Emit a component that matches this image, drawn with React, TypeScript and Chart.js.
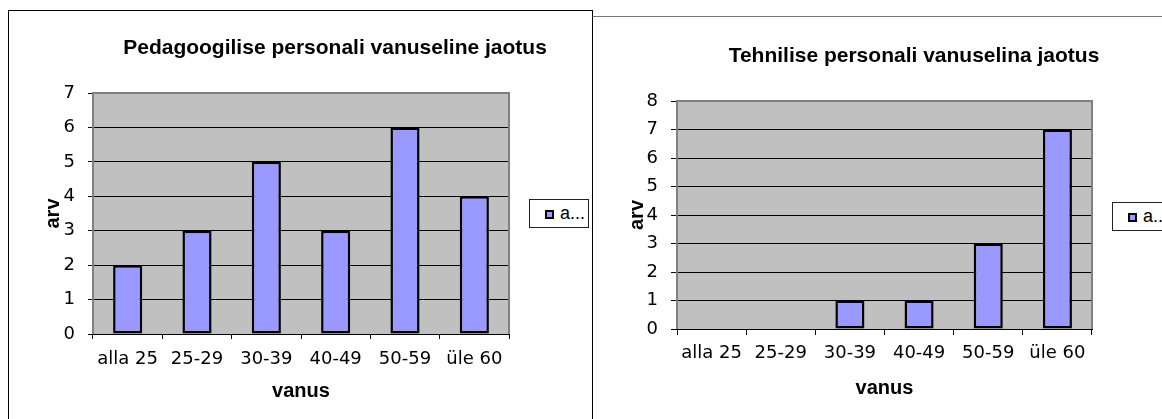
import React, { useEffect, useRef } from 'react';
import { Chart, registerables } from 'chart.js';

Chart.register(...registerables);

// ---- data ----
const categories = ['alla 25', '25-29', '30-39', '40-49', '50-59', 'üle 60'];
const pedagogicalCounts = [2, 3, 5, 3, 6, 4];
const technicalCounts = [0, 0, 1, 1, 3, 7];
const pedagogicalTitle = 'Pedagoogilise personali vanuseline jaotus';
const technicalTitle = 'Tehnilise personali vanuselina jaotus';
const xAxisTitle = 'vanus';
const yAxisTitle = 'arv';
const seriesLabel = 'arv';
const legendText = 'a...';
const pedagogicalMax = 7;
const technicalMax = 8;

const BAR_FILL = '#9999FF';
const TICK_FONT = { family: "'DejaVu Sans', 'Liberation Sans', sans-serif", size: 18 };
const boldFont = (size: number) => ({ family: "'Liberation Sans', Arial, sans-serif", size, weight: 'bold' as const });

const plotFrame = {
  id: 'plotFrame',
  afterLayout(chart: any, _args: any, opts: any) {
    const t = chart.titleBlock;
    if (t && opts && opts.titleShift) {
      t.left += opts.titleShift;
      t.right += opts.titleShift;
    }
  },
  beforeDraw(chart: any) {
    const { ctx, chartArea: a } = chart;
    ctx.save();
    ctx.fillStyle = '#C0C0C0';
    ctx.fillRect(a.left, a.top, a.right - a.left, a.bottom - a.top);
    ctx.restore();
  },
  beforeDatasetsDraw(chart: any) {
    const { ctx, chartArea: a } = chart;
    ctx.save();
    ctx.strokeStyle = '#808080';
    ctx.lineWidth = 2;
    ctx.beginPath();
    ctx.moveTo(a.left, a.bottom);
    ctx.lineTo(a.left, a.top);
    ctx.lineTo(a.right, a.top);
    ctx.lineTo(a.right, a.bottom);
    ctx.stroke();
    ctx.restore();
  },
};

type Geo = {
  titleShift: number;
  yWidth: number;
  rightWidth: number;
  xHeight: number;
  titleTop: number;
  titleBottom: number;
  yTitlePad: number;
  yTickPad: number;
  tickLen: number;
  xTickPad: number;
  xTitleBottom: number;
};

function buildConfig(values: number[], max: number, title: string, g: Geo): any {
  return {
    type: 'bar',
    data: {
      labels: categories,
      datasets: [
        {
          label: seriesLabel,
          data: values,
          xAxisID: 'x',
          yAxisID: 'y',
          backgroundColor: BAR_FILL,
          borderColor: '#000000',
          borderWidth: 2.5,
          borderSkipped: false,
          categoryPercentage: 1,
          barPercentage: 0.42,
        },
      ],
    },
    options: {
      responsive: false,
      animation: false,
      devicePixelRatio: 1,
      layout: { padding: 0 },
      plugins: {
        legend: { display: false },
        tooltip: { enabled: false },
        plotFrame: { titleShift: g.titleShift },
        title: {
          display: true,
          text: title,
          color: '#000',
          font: boldFont(21),
          padding: { top: g.titleTop, bottom: g.titleBottom },
        },
      },
      scales: {
        x: {
          type: 'category',
          position: 'bottom',
          grid: {
            display: true,
            drawOnChartArea: false,
            drawTicks: true,
            tickLength: g.tickLen,
            color: '#000',
            offset: true,
          },
          border: { display: true, color: '#000', width: 1 },
          ticks: {
            font: TICK_FONT,
            color: '#000',
            padding: g.xTickPad,
            maxRotation: 0,
            minRotation: 0,
            autoSkip: false,
          },
          title: {
            display: true,
            text: xAxisTitle,
            color: '#000',
            font: boldFont(20),
            padding: { top: 0, bottom: g.xTitleBottom },
          },
          afterFit: (s: any) => {
            s.height = g.xHeight;
          },
        },
        y: {
          type: 'linear',
          position: 'left',
          min: 0,
          max,
          grid: { color: '#000', lineWidth: 1, tickLength: g.tickLen, tickColor: '#000' },
          border: { display: true, color: '#000', width: 1 },
          ticks: { stepSize: 1, font: TICK_FONT, color: '#000', padding: g.yTickPad },
          title: {
            display: true,
            text: yAxisTitle,
            color: '#000',
            font: boldFont(20),
            padding: { top: g.yTitlePad, bottom: 0 },
          },
          afterFit: (s: any) => {
            s.width = g.yWidth;
          },
        },
        pad: {
          type: 'linear',
          position: 'right',
          display: true,
          grid: { display: false },
          border: { display: false },
          ticks: { display: false },
          afterFit: (s: any) => {
            s.width = g.rightWidth;
          },
        },
      },
    },
    plugins: [plotFrame],
  };
}

function ChartCanvas(props: { values: number[]; max: number; title: string; geo: Geo; width: number; height: number; style: React.CSSProperties }) {
  const ref = useRef<HTMLCanvasElement | null>(null);
  useEffect(() => {
    if (!ref.current) return;
    const chart = new Chart(ref.current, buildConfig(props.values, props.max, props.title, props.geo));
    return () => chart.destroy();
  }, []);
  return <canvas ref={ref} width={props.width} height={props.height} style={{ position: 'absolute', display: 'block', ...props.style }} />;
}

function Legend(props: { left: number; top: number; width: number }) {
  return (
    <div
      style={{
        position: 'absolute',
        left: props.left,
        top: props.top,
        width: props.width,
        height: 29,
        boxSizing: 'border-box',
        border: '1px solid #222',
        background: '#fff',
        fontFamily: "'Liberation Sans', Arial, sans-serif",
        fontSize: 18,
        color: '#000',
      }}
    >
      <span
        style={{
          position: 'absolute',
          left: 15,
          top: 10,
          width: 9,
          height: 9,
          boxSizing: 'border-box',
          border: '2px solid #000',
          background: BAR_FILL,
        }}
      />
      <span style={{ position: 'absolute', left: 30, top: 0, lineHeight: '27px', whiteSpace: 'nowrap' }}>{legendText}</span>
    </div>
  );
}

const leftGeo: Geo = {
  titleShift: 35,
  yWidth: 84,
  rightWidth: 82,
  xHeight: 85,
  titleTop: 24.4,
  titleBottom: 32.4,
  yTitlePad: 32,
  yTickPad: 13,
  tickLen: 5,
  xTickPad: 10,
  xTitleBottom: 16,
};

const rightGeo: Geo = {
  titleShift: 36.5,
  yWidth: 84,
  rightWidth: 70,
  xHeight: 90,
  titleTop: 26.4,
  titleBottom: 32.4,
  yTitlePad: 32,
  yTickPad: 13,
  tickLen: 6,
  xTickPad: 7.5,
  xTitleBottom: 19,
};

export default function App() {
  return (
    <div style={{ position: 'fixed', left: 0, top: 0, width: 1162, height: 419, overflow: 'hidden', background: '#fff' }}>
      <div
        style={{
          position: 'absolute',
          left: 8,
          top: 10,
          width: 585,
          height: 430,
          boxSizing: 'border-box',
          border: '1px solid #000',
        }}
      />
      <div
        style={{
          position: 'absolute',
          left: 592,
          top: 16,
          width: 600,
          height: 430,
          boxSizing: 'border-box',
          borderTop: '1px solid #777',
          borderLeft: '1px solid #000',
        }}
      />
      <ChartCanvas values={pedagogicalCounts} max={pedagogicalMax} title={pedagogicalTitle} geo={leftGeo} width={582} height={408} style={{ left: 9, top: 11 }} />
      <ChartCanvas values={technicalCounts} max={technicalMax} title={technicalTitle} geo={rightGeo} width={569} height={402} style={{ left: 593, top: 17 }} />
      <Legend left={529} top={199} width={60} />
      <Legend left={1112} top={202} width={80} />
    </div>
  );
}
